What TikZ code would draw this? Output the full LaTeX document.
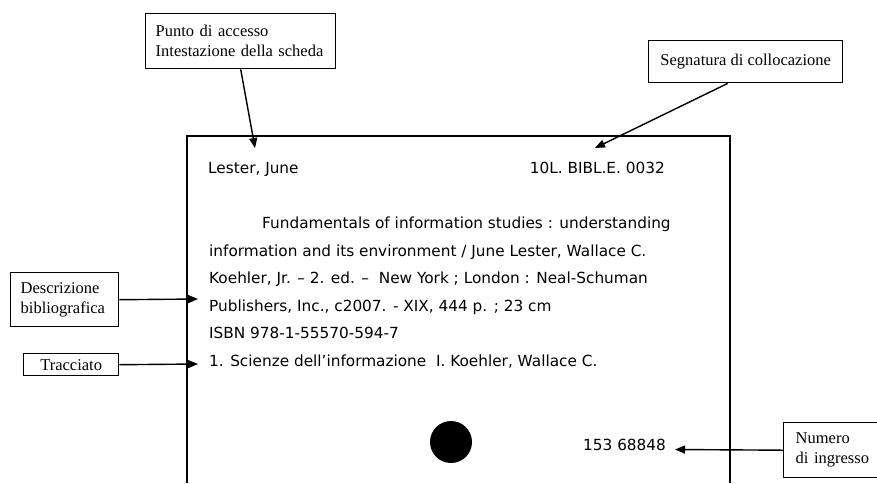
\documentclass[tikz,border=0pt]{standalone}
\usepackage{fontspec}
\setmainfont{Liberation Serif}
\newfontfamily\cardfont{DejaVu Sans}
\usetikzlibrary{arrows.meta,positioning}

\begin{document}
\begin{tikzpicture}[x=1pt,y=-1pt,
        lbl/.style={draw, line width=1.4pt, inner sep=0pt, anchor=north west,
                font=\fontsize{16.5}{20}\selectfont},
        cardtxt/.style={anchor=base west, inner sep=0pt,
                font=\cardfont\fontsize{15.3}{18}\selectfont},
        ptr/.style={-{Triangle[length=10pt,width=8pt]}, line width=1.4pt}]
                \useasboundingbox (0,0) rectangle (877,483);

                % the card
                \draw[line width=1.8pt] (187,483) -- (187,136) -- (730,136) -- (730,483);

                \node[cardtxt] (head) at (208,173) {Lester, June};
                \node[cardtxt, anchor=base east] (shelf) at (665,173) {10L. BIBL.E. 0032};

                \node[cardtxt] (l1) at (262,228) {Fundamentals of information studies : understanding};
                \node[cardtxt] (l2) at (209,256) {information and its environment / June Lester, Wallace C.};
                \node[cardtxt] (l3) at (209,283) {Koehler, Jr. – 2. ed. –\ \ New York ; London : Neal-Schuman};
                \node[cardtxt] (l4) at (209,311) {Publishers, Inc., c2007. - XIX, 444 p. ; 23 cm};
                \node[cardtxt] (l5) at (209,338) {ISBN 978-1-55570-594-7};
                \node[cardtxt] (l6) at (209,366) {1. Scienze dell’informazione\ \ I. Koehler, Wallace C.};

                \node[circle, fill, inner sep=0pt, minimum size=42pt] (hole) at (451,442) {};
                \node[cardtxt] (ingr) at (583,450) {153 68848};

                % labels
                \node[lbl, minimum width=190pt, minimum height=55pt, align=left, text width=170pt, inner xsep=10pt] (punto) at (145,13) {Punto di accesso\\Intestazione della scheda};
                \node[lbl, minimum width=194pt, minimum height=42pt] (seg) at (648,40) {Segnatura di collocazione};
                \node[lbl, minimum height=54pt, align=left, text width=88pt, inner xsep=10pt] (desc) at (10,272) {Descrizione\\bibliografica};
                \node[lbl, minimum width=95pt, minimum height=22pt] (trac) at (23,353) {Tracciato};
                \node[lbl, minimum height=55pt, align=left, text width=80pt, inner xsep=12pt] (num) at (783,422) {Numero\\di ingresso};

                % pointers
                \coordinate (tipA) at (255,148);
                \coordinate (tipB) at (595,148);
                \coordinate (tipC) at (198,299);
                \coordinate (tipD) at (198,364);
                \coordinate (tipE) at (675,449.5);

                \draw[ptr] (punto.south) -- (tipA);
                \draw[ptr] ([xshift=-18pt]seg.south) -- (tipB);
                \draw[ptr] (desc.east) -- (tipC);
                \draw[ptr] (trac.east) -- (tipD);
                \draw[ptr] (num.west) -- (tipE);
\end{tikzpicture}
\end{document}
